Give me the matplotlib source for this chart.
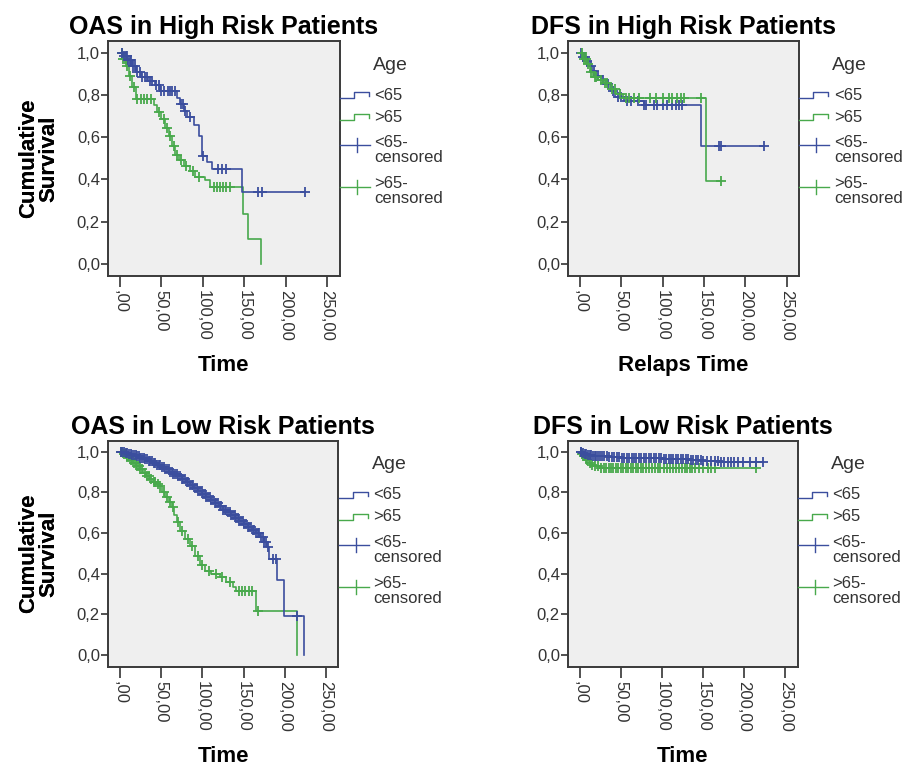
import numpy as np
import matplotlib
matplotlib.use("Agg")
import matplotlib.pyplot as plt
from matplotlib.lines import Line2D

# ---- data (time, survival after each event) ----
# OAS high risk
oas_hi_lt65_t = [4, 9, 14, 19, 26, 34, 42, 48, 69, 73, 77, 81, 89, 95, 99, 105, 111, 147]
oas_hi_lt65_s = [0.985, 0.965, 0.935, 0.91, 0.885, 0.865, 0.845, 0.82, 0.785, 0.755, 0.725,
                 0.695, 0.655, 0.605, 0.51, 0.48, 0.45, 0.34]
oas_hi_lt65_c = [2, 5, 7, 8, 10, 12, 13, 16, 18, 21, 24, 27, 30, 33, 36, 39, 44, 47, 50, 53,
                 58, 60, 63, 66, 74, 76, 79, 85, 100, 118, 123, 128, 167, 171, 223]
oas_hi_gt65_t = [3, 7, 11, 15, 19, 41, 45, 49, 55, 59, 63, 67, 71, 77, 85, 91, 103, 109, 148, 155, 170]
oas_hi_gt65_s = [0.97, 0.935, 0.89, 0.835, 0.78, 0.75, 0.72, 0.685, 0.645, 0.605, 0.56, 0.515,
                 0.49, 0.465, 0.44, 0.41, 0.395, 0.365, 0.235, 0.115, 0.0]
oas_hi_gt65_c = [2, 4, 6, 9, 12, 17, 21, 25, 29, 33, 37, 47, 53, 57, 61, 65, 69, 74, 80, 88,
                 96, 113, 117, 121, 124, 128, 133]

# DFS high risk
dfs_hi_lt65_t = [3, 7, 11, 15, 20, 25, 31, 38, 43, 53, 77, 147]
dfs_hi_lt65_s = [0.98, 0.96, 0.935, 0.915, 0.89, 0.87, 0.85, 0.82, 0.79, 0.77, 0.75, 0.56]
dfs_hi_lt65_c = [1, 4, 6, 9, 13, 17, 22, 28, 34, 40, 46, 50, 57, 62, 70, 78, 80, 90, 93, 101,
                 105, 112, 116, 120, 124, 168, 171, 223]
dfs_hi_gt65_t = [4, 8, 12, 16, 22, 28, 36, 44, 52, 153]
dfs_hi_gt65_s = [0.97, 0.945, 0.91, 0.885, 0.87, 0.855, 0.83, 0.805, 0.785, 0.39]
dfs_hi_gt65_c = [2, 5, 7, 10, 14, 18, 20, 25, 30, 33, 39, 42, 48, 56, 60, 66, 72, 85, 92, 100,
                 108, 112, 118, 122, 126, 146, 171]

# OAS low risk
oas_lo_lt65_t = [3, 6, 10, 15, 20, 25, 30, 35, 40, 45, 50, 55, 60, 65, 70, 75, 80, 85, 90, 95,
                 100, 105, 110, 115, 120, 125, 130, 135, 140, 145, 150, 155, 160, 165, 170,
                 175, 178, 181, 191, 199, 223]
oas_lo_lt65_s = [0.998, 0.995, 0.99, 0.985, 0.98, 0.972, 0.963, 0.954, 0.944, 0.934, 0.924,
                 0.914, 0.903, 0.892, 0.88, 0.866, 0.851, 0.836, 0.822, 0.808, 0.793, 0.778,
                 0.763, 0.747, 0.731, 0.716, 0.702, 0.688, 0.674, 0.66, 0.646, 0.632, 0.617,
                 0.6, 0.58, 0.555, 0.53, 0.47, 0.37, 0.19, 0.0]
oas_lo_lt65_c = [1, 3, 5, 7, 9, 11, 13, 15, 17, 19, 21, 23, 25, 27, 29, 31, 33, 35, 37, 39,
                 41, 43, 45, 47, 49, 51, 53, 55, 57, 59, 61, 63, 65, 67, 69, 71, 73, 75, 77,
                 79, 81, 83, 85, 87, 89, 91, 93, 95, 97, 99, 101, 103, 105, 107, 109, 111,
                 113, 115, 117, 119, 121, 123, 125, 127, 129, 131, 133, 135, 137, 139, 141,
                 143, 145, 147, 149, 151, 153, 155, 157, 159, 161, 163, 165, 167, 169, 171,
                 173, 175, 177, 180, 186, 189, 215]
oas_lo_gt65_t = [4, 8, 12, 16, 20, 24, 28, 32, 36, 40, 44, 48, 51, 55, 59, 63, 66, 69, 73, 79,
                 85, 91, 97, 103, 111, 121, 129, 137, 141, 165, 215]
oas_lo_gt65_s = [0.99, 0.975, 0.96, 0.945, 0.93, 0.915, 0.895, 0.88, 0.865, 0.85, 0.84, 0.83,
                 0.8, 0.78, 0.755, 0.73, 0.69, 0.655, 0.61, 0.57, 0.535, 0.485, 0.445, 0.415,
                 0.4, 0.385, 0.36, 0.335, 0.315, 0.215, 0.0]
oas_lo_gt65_c = [1, 3, 5, 7, 9, 11, 13, 15, 17, 19, 21, 23, 25, 27, 30, 33, 35, 38, 41, 43,
                 46, 49, 53, 57, 61, 64, 71, 75, 83, 88, 95, 100, 108, 116, 124, 133, 144,
                 148, 152, 156, 160, 168]

# DFS low risk
dfs_lo_lt65_t = [1, 3, 6, 10, 16, 24, 35, 50, 70, 100, 135, 150, 170]
dfs_lo_lt65_s = [0.998, 0.995, 0.99, 0.986, 0.982, 0.978, 0.974, 0.971, 0.968, 0.965, 0.96,
                 0.955, 0.95]
dfs_lo_lt65_c = [1, 2, 4, 6, 8, 10, 12, 14, 16, 18, 20, 22, 24, 27, 30, 33, 36, 39, 42, 45,
                 48, 51, 54, 57, 60, 63, 66, 69, 72, 75, 78, 81, 84, 87, 90, 93, 96, 99, 102,
                 105, 108, 111, 114, 117, 120, 123, 126, 129, 132, 135, 138, 141, 144, 147,
                 150, 155, 160, 164, 168, 172, 176, 180, 184, 188, 192, 199, 207, 215, 223]
dfs_lo_gt65_t = [2, 4, 6, 8, 11, 14, 18, 24]
dfs_lo_gt65_s = [0.99, 0.98, 0.97, 0.958, 0.947, 0.937, 0.93, 0.922]
dfs_lo_gt65_c = [3, 5, 7, 9, 12, 15, 19, 22, 26, 29, 32, 35, 38, 41, 44, 47, 50, 53, 56, 59,
                 62, 65, 68, 71, 74, 77, 80, 84, 88, 92, 95, 98, 102, 106, 110, 113, 117, 121,
                 125, 128, 131, 134, 137, 140, 145, 150, 156, 160, 165, 215]

titles = ["OAS in High Risk Patients", "DFS in High Risk Patients",
          "OAS in Low Risk Patients", "DFS in Low Risk Patients"]
xlabels = ["Time", "Relaps Time", "Time", "Time"]
x_ticks = [0, 50, 100, 150, 200, 250]
x_ticklabels = [",00", "50,00", "100,00", "150,00", "200,00", "250,00"]
y_ticks = [0.0, 0.2, 0.4, 0.6, 0.8, 1.0]
y_ticklabels = ["0,0", "0,2", "0,4", "0,6", "0,8", "1,0"]
legend_title = "Age"
legend_labels = ["<65", ">65", "<65-\ncensored", ">65-\ncensored"]

W, H = 907, 769
BLUE = "#3b4e9e"
GREEN = "#48a94c"
TXT = "#333333"

plt.rcParams["font.family"] = ["Liberation Sans", "DejaVu Sans"]
fig = plt.figure(figsize=(W / 100, H / 100), dpi=100)


def fx(x):
    return x / W


def fy(y):
    return 1 - y / H


def km(ax, times, surv, cens, color):
    times = np.asarray(times, float)
    surv = np.asarray(surv, float)
    cens = np.asarray(cens, float)
    end = max(times[-1], cens.max())
    xs = np.concatenate([[0], times, [end]])
    ys = np.concatenate([[1.0], surv, [surv[-1]]])
    ax.step(xs, ys, where="post", color=color, lw=1.2)
    # censored marks sit on the curve at their time
    idx = np.searchsorted(times, cens, side="right")
    cy = np.concatenate([[1.0], surv])[idx]
    ax.plot(cens, cy, "+", color=color, ms=7, mew=1.3)


def legend(R, T):
    fig.text(fx(R + 33), fy(T + 24), legend_title, fontsize=14, color=TXT, va="center", ha="left")
    for dy, col, lab in [(0, BLUE, legend_labels[0]), (22, GREEN, legend_labels[1])]:
        xs = [R, R + 14, R + 14, R + 29, R + 29]
        ys = [T + 57 + dy, T + 57 + dy, T + 51 + dy, T + 51 + dy, T + 55 + dy]
        fig.add_artist(Line2D([fx(v) for v in xs], [fy(v) for v in ys],
                              transform=fig.transFigure, color=col, lw=1.0))
        fig.text(fx(R + 35), fy(T + 54 + dy), lab, fontsize=12, color=TXT, va="center", ha="left")
    for ly, ty, col, lab in [(104, 109, BLUE, legend_labels[2]), (146, 150, GREEN, legend_labels[3])]:
        fig.add_artist(Line2D([fx(R), fx(R + 30)], [fy(T + ly), fy(T + ly)],
                              transform=fig.transFigure, color=col, lw=1.0))
        fig.add_artist(Line2D([fx(R + 17), fx(R + 17)], [fy(T + ly - 7), fy(T + ly + 7)],
                              transform=fig.transFigure, color=col, lw=1.0))
        fig.text(fx(R + 35), fy(T + ty), lab, fontsize=12, color=TXT, va="center", ha="left",
                 linespacing=1.0)


def panel(rect, title, xlabel, curves):
    left, top, right, bottom = rect
    ax = fig.add_axes([fx(left), fy(bottom), (right - left) / W, (bottom - top) / H])
    ax.set_facecolor("#efefef")
    for (t, s, c, col) in curves:
        km(ax, t, s, c, col)
    ax.set_xlim(-14, 265)
    ax.set_ylim(-0.058, 1.055)
    ax.set_xticks(x_ticks)
    ax.set_xticklabels(x_ticklabels, rotation=-90, fontsize=12, color=TXT)
    ax.set_yticks(y_ticks)
    ax.set_yticklabels(y_ticklabels, fontsize=12, color=TXT)
    ax.tick_params(axis="y", length=5, width=1.2, pad=1, color="#333333")
    ax.tick_params(axis="x", length=8, width=1.2, pad=2, color="#333333")
    for sp in ax.spines.values():
        sp.set_color("#3a3a3a")
        sp.set_linewidth(1.4)
    ax.set_title(title, fontsize=18, fontweight="bold", pad=5)
    ax.set_xlabel(xlabel, fontsize=16, fontweight="bold")
    ax.xaxis.set_label_coords(0.5, -79 / (bottom - top))
    ax.set_ylabel("Cumulative\nSurvival", fontsize=16, fontweight="bold", linespacing=0.9)
    ax.yaxis.set_label_coords((59 - left) / (right - left), 0.5)
    legend(right, top)
    return ax


panel((108.3, 41, 339.5, 276), titles[0], xlabels[0],
      [(oas_hi_gt65_t, oas_hi_gt65_s, oas_hi_gt65_c, GREEN),
       (oas_hi_lt65_t, oas_hi_lt65_s, oas_hi_lt65_c, BLUE)])
panel((568.3, 41, 799, 276), titles[1], xlabels[1],
      [(dfs_hi_lt65_t, dfs_hi_lt65_s, dfs_hi_lt65_c, BLUE),
       (dfs_hi_gt65_t, dfs_hi_gt65_s, dfs_hi_gt65_c, GREEN)])
panel((108.3, 440.7, 338.5, 666.7), titles[2], xlabels[2],
      [(oas_lo_gt65_t, oas_lo_gt65_s, oas_lo_gt65_c, GREEN),
       (oas_lo_lt65_t, oas_lo_lt65_s, oas_lo_lt65_c, BLUE)])
panel((568.3, 440.7, 797.5, 666.7), titles[3], xlabels[3],
      [(dfs_lo_gt65_t, dfs_lo_gt65_s, dfs_lo_gt65_c, GREEN),
       (dfs_lo_lt65_t, dfs_lo_lt65_s, dfs_lo_lt65_c, BLUE)])

fig.savefig("out.png", dpi=100, facecolor="white")
